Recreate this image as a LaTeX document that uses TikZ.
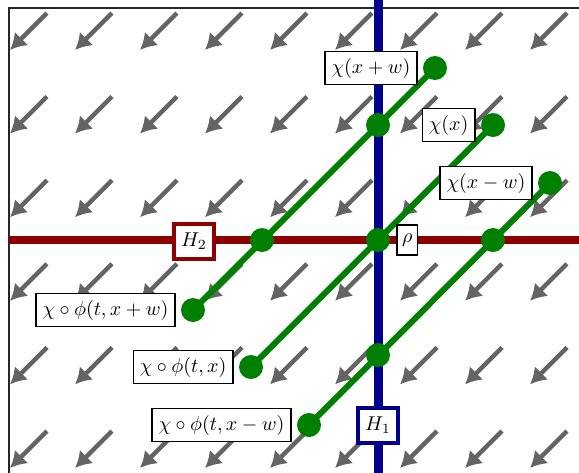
\documentclass[tikz,border=0pt]{standalone}
\usetikzlibrary{arrows.meta,positioning}
\definecolor{vgray}{RGB}{100,100,100}
\definecolor{vgreen}{RGB}{0,128,0}
\definecolor{vblue}{RGB}{0,0,140}
\definecolor{vred}{RGB}{140,0,0}
\begin{document}
\begin{tikzpicture}[x=0.5pt,y=-0.5pt,
  field/.style={vgray,line width=2.2pt,-{Latex[length=8pt,width=9.5pt]}},
  redline/.style={vred,line width=4pt},
  blueline/.style={vblue,line width=4.5pt},
  greenline/.style={vgreen,line width=3pt},
  dot/.style={circle,fill=vgreen,inner sep=0pt,minimum size=12pt},
  lab/.style={draw=black,line width=0.6pt,fill=white,inner sep=3.3pt},
  hbox/.style={fill=white,line width=2pt,minimum width=20pt,minimum height=17.5pt,inner sep=0pt},
  node distance=2.5pt]
\useasboundingbox (0,0) rectangle (579,472);
\clip (0,0) rectangle (579,472);
% vector field
\foreach \i in {0,...,8}
  \foreach \j in {0,...,5}
    \draw[field] ({47+65*\i},{13+83.6*\j}) -- ++(-37,37);
% frame
\draw[line width=0.8pt,black!85] (9,8) rectangle (700,600);
% axes
\coordinate (hl) at (9,240);
\coordinate (hr) at (600,240);
\coordinate (vt) at (378,-10);
\coordinate (vb) at (378,490);
\draw[redline] (hl) -- (hr);
\draw[blueline] (vt) -- (vb);
% points
\coordinate (a1) at (435,68);
\coordinate (a2) at (378,125);
\coordinate (a3) at (262,240);
\coordinate (a4) at (193,310);
\coordinate (b1) at (493,125);
\coordinate (b2) at (378,240);
\coordinate (b3) at (251,367);
\coordinate (c1) at (550,183);
\coordinate (c2) at (493,240);
\coordinate (c3) at (378,355);
\coordinate (c4) at (309,425);
\draw[greenline] (a1) -- (a4);
\draw[greenline] (b1) -- (b3);
\draw[greenline] (c1) -- (c4);
\foreach \p in {a1,a2,a3,a4,b1,b2,b3,c1,c2,c3,c4}
  \node[dot] (d\p) at (\p) {};
% boxes on axes
\node[hbox,draw=vred] (H2) at (194,241) {$H_2$};
\node[hbox,draw=vblue] (H1) at (378,425) {$H_1$};
% labels
\node[lab,left=of da1] (l1) {$\chi(x+w)$};
\node[lab,left=of db1] (l2) {$\chi(x)$};
\node[lab,left=of dc1] (l3) {$\chi(x-w)$};
\node[lab,left=of da4] (l4) {$\chi\circ\phi(t,x+w)$};
\node[lab,left=of db3] (l5) {$\chi\circ\phi(t,x)$};
\node[lab,left=of dc4] (l6) {$\chi\circ\phi(t,x-w)$};
\node[lab,right=3pt of db2,minimum height=15pt,inner sep=2.5pt] (rho) {$\rho$};
\end{tikzpicture}
\end{document}
